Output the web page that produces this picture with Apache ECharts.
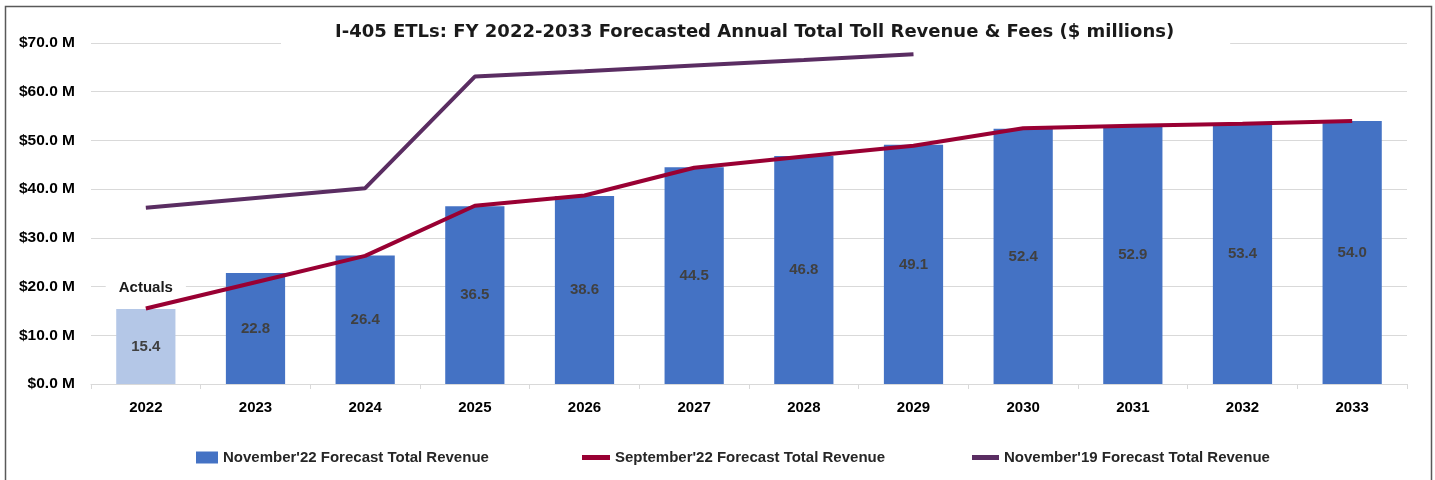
<!DOCTYPE html>
<html>
<head>
<meta charset="utf-8">
<script src="https://cdn.jsdelivr.net/npm/echarts@6/dist/echarts.min.js"></script>
<style>
  html, body { margin: 0; padding: 0; background: #fff; }
  #chart { width: 1435px; height: 480px; }
</style>
</head>
<body>
<div id="chart"></div>
<script>
// data
const years = ["2022", "2023", "2024", "2025", "2026", "2027", "2028", "2029", "2030", "2031", "2032", "2033"];
const nov22 = [15.4, 22.8, 26.4, 36.5, 38.6, 44.5, 46.8, 49.1, 52.4, 52.9, 53.4, 54.0];
const sep22 = [15.5, 20.9, 26.3, 36.6, 38.7, 44.4, 46.7, 48.9, 52.5, 53.0, 53.4, 54.0];
const nov19 = [36.2, 38.2, 40.2, 63.1, 64.2, 65.4, 66.5, 67.7, null, null, null, null];

const FONT = "Liberation Sans";
const names = ["November'22 Forecast Total Revenue", "September'22 Forecast Total Revenue", "November'19 Forecast Total Revenue"];

let chart = echarts.init(document.getElementById("chart"));

//first bar is actuals, lighter colour
let barData = nov22.map((v, i) => {
    if (i === 0) return { value: v, itemStyle: { color: "#B4C7E7" } };
    return v;
});

let legendText = { fontFamily: FONT, fontSize: 15, fontWeight: "bold", color: "#262626" };

chart.setOption({
    animation: false,
    textStyle: { fontFamily: FONT },
    title: {
        text: "I-405 ETLs: FY 2022-2033 Forecasted Annual Total Toll Revenue & Fees ($ millions)",
        left: 281,
        top: 19,
        padding: [4, 56, 6, 54],
        backgroundColor: "#fff",
        textStyle: { fontFamily: "DejaVu Sans", fontSize: 18, fontWeight: "bold", color: "#1a1a1a" }
    },
    legend: [
        { data: [names[0]], left: 191, top: 445, icon: "rect", itemWidth: 22, itemHeight: 12, itemGap: 8, textStyle: legendText },
        { data: [names[1]], left: 577, top: 445, icon: "rect", itemWidth: 28, itemHeight: 5, itemGap: 2, textStyle: legendText },
        { data: [names[2]], left: 967, top: 445, icon: "rect", itemWidth: 27, itemHeight: 5, itemGap: 1, textStyle: legendText }
    ],
    grid: { left: 91, right: 28, top: 43, bottom: 96 },
    xAxis: {
        type: "category",
        data: years,
        axisLine: { lineStyle: { color: "#D9D9D9", width: 1 } },
        axisTick: { show: true, length: 5, lineStyle: { color: "#D9D9D9" } },
        axisLabel: { margin: 16, fontSize: 15, fontWeight: "bold", color: "#000" }
    },
    yAxis: {
        type: "value",
        min: 0,
        max: 70,
        interval: 10,
        axisLine: { show: false },
        axisTick: { show: false },
        splitLine: { lineStyle: { color: "#D9D9D9", width: 1 } },
        axisLabel: {
            margin: 16, fontSize: 15.5, fontWeight: "bold", color: "#000",
            formatter: v => "$" + v.toFixed(1) + " M"
        }
    },
    series: [
        {
            name: names[0],
            type: "bar",
            data: barData,
            barWidth: "54%",
            itemStyle: { color: "#4472C4" },
            label: {
                show: true,
                position: "inside",
                formatter: p => p.value.toFixed(1),
                fontSize: 15, fontWeight: "bold", color: "#404040"
            },
            markPoint: {
                symbol: "rect",
                symbolSize: 0,
                data: [{ coord: ["2022", nov22[0]], value: "Actuals" }],
                label: {
                    show: true,
                    position: "top",
                    distance: 13,
                    formatter: "Actuals",
                    fontSize: 15, fontWeight: "bold", color: "#1a1a1a",
                    backgroundColor: "#fff",
                    padding: [1, 13]
                }
            },
            z: 2
        },
        {
            name: names[1],
            type: "line",
            data: sep22,
            showSymbol: false,
            symbol: "none",
            lineStyle: { color: "#990033", width: 4 },
            itemStyle: { color: "#990033" },
            z: 3
        },
        {
            name: names[2],
            type: "line",
            data: nov19,
            showSymbol: false,
            symbol: "none",
            lineStyle: { color: "#5A2D62", width: 4 },
            itemStyle: { color: "#5A2D62" },
            z: 3
        }
    ],
    graphic: [
        {
            type: "rect",
            shape: { x: 5.5, y: 6.5, width: 1426, height: 490 },
            style: { fill: null, stroke: "#595959", lineWidth: 1.5 },
            silent: true
        }
    ]
});
</script>
</body>
</html>
